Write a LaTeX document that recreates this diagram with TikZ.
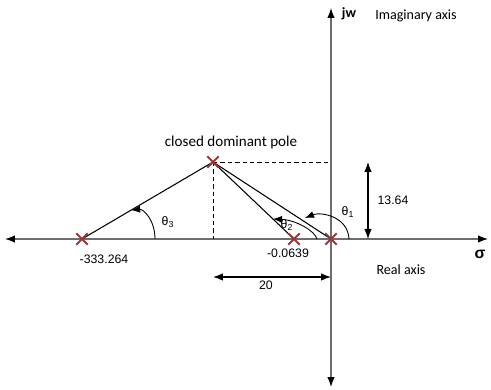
\documentclass[tikz,border=0pt]{standalone}
\usepackage{fontspec}
\setmainfont{Carlito}
\newfontfamily\arialfont{Liberation Sans}
\usetikzlibrary{calc,shapes.misc,arrows.meta}
\definecolor{polered}{RGB}{155,55,55}
\definecolor{axisgray}{RGB}{110,110,110}
\tikzset{
  pole/.style={
    cross out,
    draw=polered,
    line width=1.1pt,
    minimum size=0.19cm,
    inner sep=0pt
  },
  axis/.style={
    draw=axisgray,
    line width=0.7pt
  },
  dimline/.style={
    {Latex[length=2mm,width=1.5mm]}-{Latex[length=2mm,width=1.5mm]},
    line width=0.6pt
  },
  anglearrow/.style={
    -{Latex[length=1.8mm,width=1.4mm]},
    line width=0.5pt
  },
  guide/.style={
    dash pattern=on 2.5pt off 1.7pt,
    line width=0.5pt
  },
  lbl/.style={
    font=\fontsize{8}{9}\selectfont,
    inner sep=1pt
  },
  num/.style={
    font=\arialfont\fontsize{7}{8}\selectfont,
    inner sep=1pt
  }
}
\begin{document}
\begin{tikzpicture}
  \useasboundingbox (-6.62,-3.02) rectangle (3.20,4.78);
  % axes
  \coordinate (west) at (-6.52,0);
  \coordinate (east) at (3.14,0);
  \coordinate (north) at (0,4.62);
  \coordinate (south) at (0,-2.96);
  \draw[axis,{Latex[black,length=2mm,width=1.5mm]}-{Latex[black,length=2mm,width=1.5mm]}] (west) -- (east);
  \draw[axis,{Latex[black,length=2mm,width=1.5mm]}-{Latex[black,length=2mm,width=1.5mm]}] (south) -- (north);
  % poles
  \coordinate (O) at (0,0);
  \coordinate (D) at (-2.36,1.54);
  \coordinate (p3) at (-4.98,0);
  \coordinate (p2) at (-0.74,0);
  \coordinate (foot) at (-2.36,0);
  \coordinate (top) at (0,1.54);
  \draw[guide] (D) -- (top);
  \draw[guide] (D) -- (foot);
  \draw[line width=0.6pt] (p3) -- (D);
  \draw[line width=0.6pt] (p2) -- (D);
  \draw[line width=0.6pt] (O) -- (D);
  \foreach \p in {p3,p2,O,D}{
    \node[pole] (x\p) at (\p) {};
  }
  % dimensions
  \coordinate (h1) at (0.74,1.54);
  \coordinate (h0) at (0.74,0);
  \draw[dimline] (h1) -- (h0);
  \coordinate (w0) at (-2.36,-0.76);
  \coordinate (w1) at (0,-0.76);
  \draw[dimline] (w0) -- (w1);
  % angles
  \coordinate (a3s) at (-3.52,0);
  \coordinate (a3e) at ($(p3)!0.375!(D)$);
  \draw[anglearrow] (a3s) .. controls (-3.52,0.38) and (-3.75,0.6) .. (a3e);
  \coordinate (a2s) at (-0.28,0);
  \coordinate (a2e) at ($(p2)!0.26!(D)$);
  \draw[anglearrow] (a2s) .. controls (-0.32,0.16) and (-0.7,0.38) .. (a2e);
  \coordinate (a1s) at (0.36,0);
  \coordinate (a1e) at (-0.52,0.42);
  \draw[anglearrow] (a1s) .. controls (0.34,0.45) and (-0.2,0.55) .. (a1e);
  % labels
  \node[lbl,font=\fontsize{8.6}{10}\selectfont] (tdom) at (-2.0,1.94) {closed dominant pole};
  \node[lbl,font=\bfseries\fontsize{8}{9}\selectfont] (tjw) at (0.36,4.5) {jw};
  \node[lbl] (timag) at (1.70,4.46) {Imaginary axis};
  \node[lbl] (treal) at (1.40,-0.62) {Real axis};
  \node[num,font=\arialfont\bfseries\fontsize{9}{10}\selectfont] (tsigma) at (2.98,-0.30) {σ};
  \node[num] (tp3) at (-4.54,-0.40) {-333.264};
  \node[num] (tp2) at (-0.86,-0.28) {-0.0639};
  \node[num] (th) at (1.24,0.78) {13.64};
  \node[num] (tw) at (-1.30,-0.92) {20};
  \node[num] (tth3) at (-3.26,0.34) {θ\textsubscript{3}};
  \node[num] (tth2) at (-0.88,0.28) {θ\textsubscript{2}};
  \node[num] (tth1) at (0.34,0.54) {θ\textsubscript{1}};
\end{tikzpicture}
\end{document}
